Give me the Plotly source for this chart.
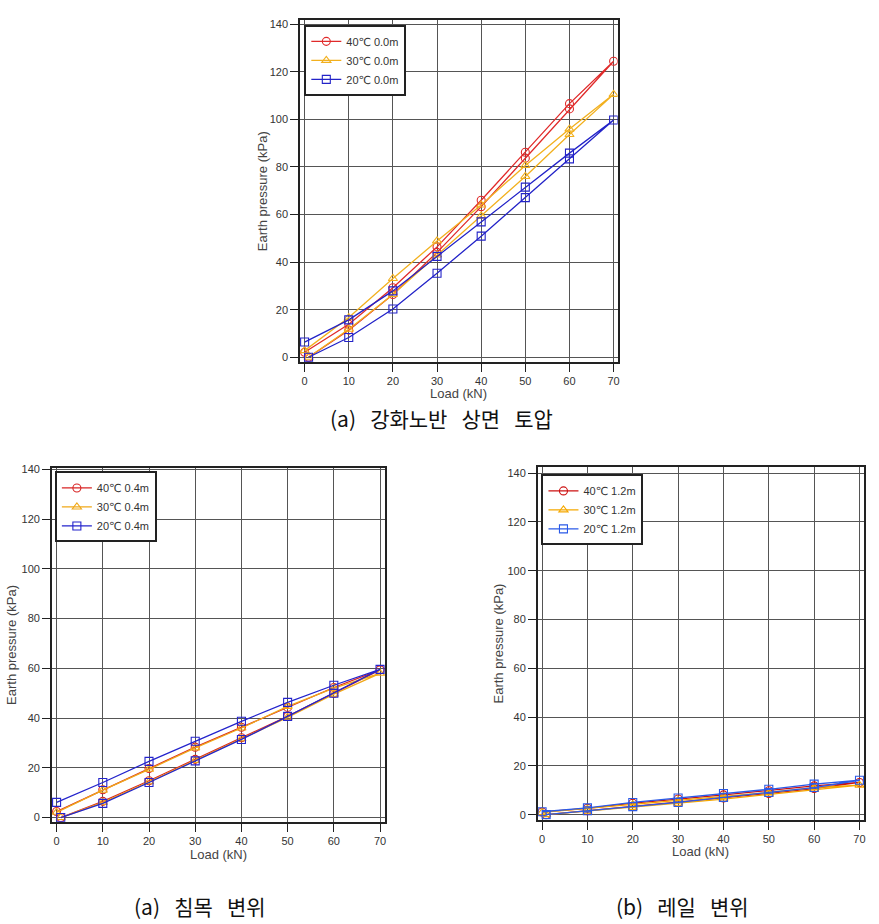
import plotly.graph_objects as go

# ---------------- data ----------------
# load path: start, loading 10..70, unloading 60..0
LOAD = [0.9, 10, 20, 30, 40, 50, 60, 70, 60, 50, 40, 30, 20, 10, 0]

# (a) top chart - 0.0m
TOP_40 = [0, 11.4, 26.4, 44.1, 63.3, 83.7, 104.4, 124.4, 106.6, 86.2, 66.0, 46.4, 29.2, 13.9, 2.1]
TOP_30 = [0, 11.8, 26.4, 43.0, 59.4, 76.0, 93.6, 110.5, 95.9, 80.6, 64.0, 48.9, 33.1, 16.7, 2.8]
TOP_20 = [0, 8.3, 20.3, 35.3, 50.9, 67.1, 83.4, 99.7, 85.8, 71.5, 56.9, 42.4, 27.9, 15.7, 6.4]

# bottom left - 0.4m
BL_40 = [0, 6.5, 14.8, 23.4, 32.1, 40.7, 50.0, 59.4, 52.3, 44.3, 36.3, 28.3, 19.7, 11.2, 2.4]
BL_30 = [0, 6.1, 14.4, 23.0, 31.7, 40.3, 49.6, 58.0, 52.0, 44.7, 36.0, 28.0, 19.4, 11.0, 2.1]
BL_20 = [0, 5.7, 14.1, 22.8, 31.4, 40.7, 50.0, 59.6, 53.2, 46.3, 38.7, 30.7, 22.6, 14.1, 6.1]

# bottom right - 1.2m
BR_40 = [0, 1.6, 3.3, 5.0, 6.8, 8.7, 10.7, 13.2, 11.8, 9.8, 8.1, 6.4, 4.7, 2.6, 1.1]
BR_30 = [0, 1.4, 3.0, 4.7, 6.4, 8.4, 10.4, 12.1, 11.1, 9.1, 7.5, 5.8, 4.1, 2.3, 0.9]
BR_20 = [0, 1.6, 3.3, 5.0, 7.1, 9.1, 11.1, 14.1, 12.5, 10.4, 8.7, 6.8, 5.0, 2.8, 1.2]

TEMPS = ["40℃", "30℃", "20℃"]
X_TICKS = [0, 10, 20, 30, 40, 50, 60, 70]
Y_TICKS = [0, 20, 40, 60, 80, 100, 120, 140]
CAPTIONS = ["(a) 강화노반 상면 토압", "(a) 침목 변위", "(b) 레일 변위"]
X_TITLE = "Load (kN)"
Y_TITLE = "Earth pressure (kPa)"

W, H = 879, 924
FONT = "Liberation Sans, Arial, DejaVu Sans, sans-serif"
SP = "\u00a0\u00a0\u00a0"

panels = [
    dict(depth="0.0m", data=[TOP_40, TOP_30, TOP_20],
         colors=["#e02a2a", "#f2b01e", "#2323c8"],
         px=(300.7, 619), py=(15, 360), xr=[-1.04, 70.9], yr=[-2.1, 141.8],
         leg=(305, 20), ytitle_x=262.7, xtitle_y=391, cap=(443, 416)),
    dict(depth="0.4m", data=[BL_40, BL_30, BL_20],
         colors=["#d82424", "#f0a818", "#2424cc"],
         px=(52, 386), py=(466.7, 823), xr=[-1.02, 71.1], yr=[-1.7, 140.5],
         leg=(55, 470), ytitle_x=12, xtitle_y=856, cap=(200, 908)),
    dict(depth="1.2m", data=[BR_40, BR_30, BR_20],
         colors=["#cc1111", "#f5a800", "#2a5ae8"],
         px=(539, 866), py=(466, 821), xr=[-0.95, 71.0], yr=[-2.1, 142.3],
         leg=(542.7, 473), ytitle_x=500, xtitle_y=853, cap=(684, 908)),
]
SYMBOLS = ["circle-open", "triangle-up-open", "square-open"]

fig = go.Figure()
layout = dict(width=W, height=H, margin=dict(l=0, r=0, t=0, b=0),
              paper_bgcolor="white", plot_bgcolor="white",
              font=dict(family=FONT, size=11, color="#333"),
              annotations=[])

for i, p in enumerate(panels):
    n = "" if i == 0 else str(i + 1)
    legname = "legend" + n
    for j in range(3):
        fig.add_trace(go.Scatter(
            x=LOAD, y=p["data"][j], mode="lines+markers",
            name=f"{TEMPS[j]} {p['depth']}",
            line=dict(color=p["colors"][j], width=1.3),
            marker=dict(symbol=SYMBOLS[j], size=8, color=p["colors"][j],
                        line=dict(width=1.1, color=p["colors"][j])),
            xaxis="x" + n, yaxis="y" + n, legend=legname))
    axcommon = dict(showline=True, mirror=True, linecolor="#222", linewidth=1.5,
                    ticks="outside", ticklen=8, tickcolor="#222", tickwidth=1.2,
                    showgrid=True, gridcolor="#555", gridwidth=1, zeroline=False,
                    tickfont=dict(size=11, color="#333"))
    layout["xaxis" + n] = dict(axcommon, domain=[p["px"][0] / W, p["px"][1] / W],
                               range=p["xr"], tickvals=X_TICKS, anchor="y" + n)
    layout["yaxis" + n] = dict(axcommon, domain=[1 - p["py"][1] / H, 1 - p["py"][0] / H],
                               range=p["yr"], tickvals=Y_TICKS, anchor="x" + n)
    layout[legname] = dict(x=p["leg"][0] / W, y=1 - p["leg"][1] / H,
                           xanchor="left", yanchor="top",
                           bgcolor="white", bordercolor="#222", borderwidth=2,
                           font=dict(size=11, color="#333"), itemwidth=30,
                           tracegroupgap=0)
    ymid = (p["py"][0] + p["py"][1]) / 2
    xmid = (p["px"][0] + p["px"][1]) / 2
    layout["annotations"] += [
        dict(text=Y_TITLE, textangle=-90, x=p["ytitle_x"] / W, y=1 - ymid / H,
             xref="paper", yref="paper", showarrow=False,
             font=dict(size=13, color="#444"), xanchor="center", yanchor="middle"),
        dict(text=X_TITLE, x=xmid / W, y=1 - p["xtitle_y"] / H,
             xref="paper", yref="paper", showarrow=False,
             font=dict(size=13, color="#444"), xanchor="center", yanchor="middle"),
        dict(text=CAPTIONS[i].replace(" ", SP), x=p["cap"][0] / W, y=1 - p["cap"][1] / H,
             xref="paper", yref="paper", showarrow=False,
             font=dict(size=21, color="#111",
                       family="Noto Sans CJK KR, Noto Sans, sans-serif"),
             xanchor="center", yanchor="middle"),
    ]

fig.update_layout(**layout)
fig.write_html("out.html")
